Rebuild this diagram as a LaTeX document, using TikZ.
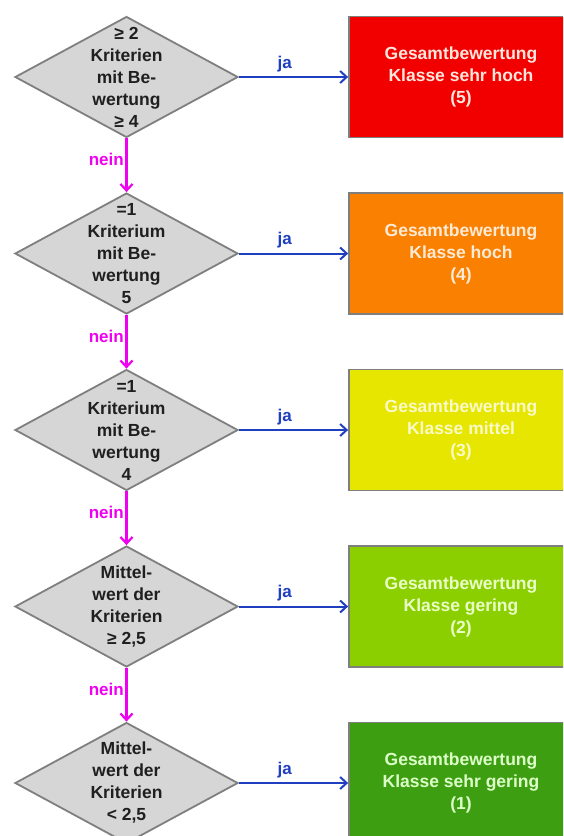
\documentclass[tikz,border=0pt]{standalone}
\usepackage{fontspec}
\setmainfont{Liberation Sans}
\usetikzlibrary{shapes.geometric,arrows.meta}
\definecolor{diagray}{HTML}{7F7F7F}
\definecolor{diafill}{HTML}{D6D6D6}
\definecolor{jablue}{HTML}{1F3FC0}
\definecolor{neinmag}{HTML}{F000F0}
\definecolor{c5}{HTML}{F20000}
\definecolor{c4}{HTML}{F98000}
\definecolor{c3}{HTML}{E6E600}
\definecolor{c2}{HTML}{8CCF00}
\definecolor{c1}{HTML}{3E9E12}
\definecolor{t5}{HTML}{FFE6DC}
\definecolor{t4}{HTML}{FFEAD6}
\definecolor{t3}{HTML}{FAFAC8}
\definecolor{t2}{HTML}{EAFFC8}
\definecolor{t1}{HTML}{DCFFC8}
\tikzset{
  dia/.style={diamond,draw=diagray,fill=diafill,line width=1.8pt,
    minimum width=223pt,minimum height=121pt,inner sep=0pt},
  dtext/.style={align=center,font=\bfseries\fontsize{17.5}{22}\selectfont,text=black!88},
  box/.style={rectangle,draw=diagray,line width=1.8pt,minimum width=224pt,
    minimum height=121pt,inner sep=0pt,align=center,
    font=\bfseries\fontsize{17.5}{22}\selectfont},
  ja/.style={draw=jablue,line width=2pt,-{Straight Barb[length=6.5pt,width=12pt,line width=2pt]}},
  nein/.style={draw=neinmag,line width=2.4pt,-{Straight Barb[length=6.5pt,width=12pt,line width=2.2pt]}},
  jalab/.style={above,text=jablue,font=\bfseries\fontsize{17}{20}\selectfont,inner sep=2pt,yshift=2pt},
  neinlab/.style={left,text=neinmag,font=\bfseries\fontsize{17}{20}\selectfont,inner sep=1.5pt}
}
\begin{document}
\begin{tikzpicture}[x=1pt,y=-1pt]
\clip (0,0) rectangle (563,836);
\fill[white] (0,0) rectangle (563,836);
% diamonds
\node[dia] (d1) at (126.5,77) {};
\node[dia] (d2) at (126.5,253.5) {};
\node[dia] (d3) at (126.5,430) {};
\node[dia] (d4) at (126.5,606.5) {};
\node[dia] (d5) at (126.5,783) {};
\node[dtext] (q1) at (d1) {≥ 2\\Kriterien\\mit Be-\\wertung\\≥ 4};
\node[dtext] (q2) at (d2) {=1\\Kriterium\\mit Be-\\wertung\\5};
\node[dtext] (q3) at (d3) {=1\\Kriterium\\mit Be-\\wertung\\4};
\node[dtext] (q4) at (d4) {Mittel-\\wert der\\Kriterien\\≥ 2,5};
\node[dtext] (q5) at (d5) {Mittel-\\wert der\\Kriterien\\< 2,5};
% boxes
\node[box,fill=c5,text=t5] (b5) at (461,77) {Gesamtbewertung\\Klasse sehr hoch\\(5)};
\node[box,fill=c4,text=t4] (b4) at (461,253.5) {Gesamtbewertung\\Klasse hoch\\(4)};
\node[box,fill=c3,text=t3] (b3) at (461,430) {Gesamtbewertung\\Klasse mittel\\(3)};
\node[box,fill=c2,text=t2] (b2) at (461,606.5) {Gesamtbewertung\\Klasse gering\\(2)};
\node[box,fill=c1,text=t1] (b1) at (461,783) {Gesamtbewertung\\Klasse sehr gering\\(1)};
% ja arrows
\draw[ja] (d1.east) -- node[jalab,pos=0.42] (j1) {ja} (b5.west);
\draw[ja] (d2.east) -- node[jalab,pos=0.42] (j2) {ja} (b4.west);
\draw[ja] (d3.east) -- node[jalab,pos=0.42] (j3) {ja} (b3.west);
\draw[ja] (d4.east) -- node[jalab,pos=0.42] (j4) {ja} (b2.west);
\draw[ja] (d5.east) -- node[jalab,pos=0.42] (j5) {ja} (b1.west);
% nein arrows
\draw[nein] (d1.south) -- node[neinlab,pos=0.4] (n1) {nein} (d2.north);
\draw[nein] (d2.south) -- node[neinlab,pos=0.4] (n2) {nein} (d3.north);
\draw[nein] (d3.south) -- node[neinlab,pos=0.4] (n3) {nein} (d4.north);
\draw[nein] (d4.south) -- node[neinlab,pos=0.4] (n4) {nein} (d5.north);
\end{tikzpicture}
\end{document}
